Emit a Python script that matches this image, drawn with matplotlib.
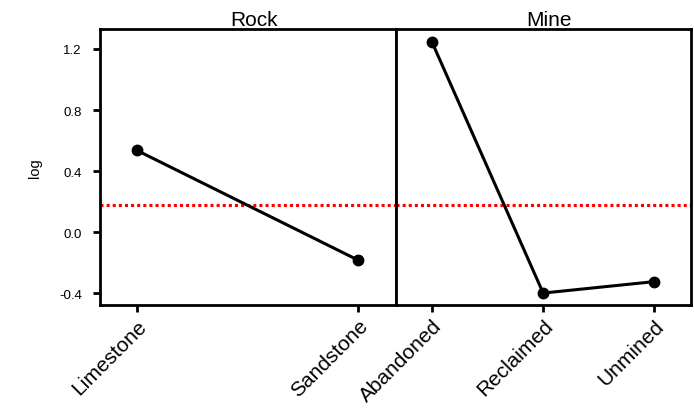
import matplotlib
matplotlib.use("Agg")
import matplotlib.pyplot as plt

plt.rcParams['font.family'] = ['Liberation Sans', 'DejaVu Sans']

# main effect means
rock_levels = ["Limestone", "Sandstone"]
rock_means = [0.535, -0.185]
mine_levels = ["Abandoned", "Reclaimed", "Unmined"]
mine_means = [1.245, -0.40, -0.325]
grand_mean = 0.175
y_ticks = [-0.4, 0.0, 0.4, 0.8, 1.2]

fig = plt.figure(figsize=(6.94, 4.14), dpi=100)
W, H = 694, 414
bottom, top = 305.5, 30
ax1 = fig.add_axes([100 / W, 1 - bottom / H, 296 / W, (bottom - top) / H])
ax2 = fig.add_axes([396 / W, 1 - bottom / H, 295 / W, (bottom - top) / H], sharey=ax1)

panels = [(ax1, "Rock", rock_levels, rock_means, (-0.167, 1.17)),
          (ax2, "Mine", mine_levels, mine_means, (-0.324, 2.33))]

for ax, title, levels, means, xl in panels:
    xs = range(len(levels))
    ax.plot(xs, means, color='black', lw=2.2, marker='o', ms=7.5, zorder=3)
    ax.axhline(grand_mean, color='red', lw=2.2, linestyle=(0, (1, 1)), dash_capstyle='butt', zorder=2)
    ax.set_xlim(*xl)
    ax.set_xticks(list(xs))
    ax.set_xticklabels(levels, rotation=45, ha='right', rotation_mode='anchor', fontsize=15)
    ax.set_title(title, fontsize=15, pad=2, x=0.52)
    for s in ax.spines.values():
        s.set_linewidth(2.0)
    ax.tick_params(axis='x', length=5, width=2.0, pad=3)

ax1.set_ylim(-0.475, 1.331)
ax1.set_yticks(y_ticks)
ax1.set_yticklabels([f"{v:.1f}" for v in y_ticks], fontsize=9.5)
ax1.tick_params(axis='y', length=5, width=2.0, pad=8)
ax1.set_ylabel("log", fontsize=10.5, labelpad=12)
ax2.tick_params(axis='y', left=False, labelleft=False)

fig.savefig("out.png", dpi=100)
